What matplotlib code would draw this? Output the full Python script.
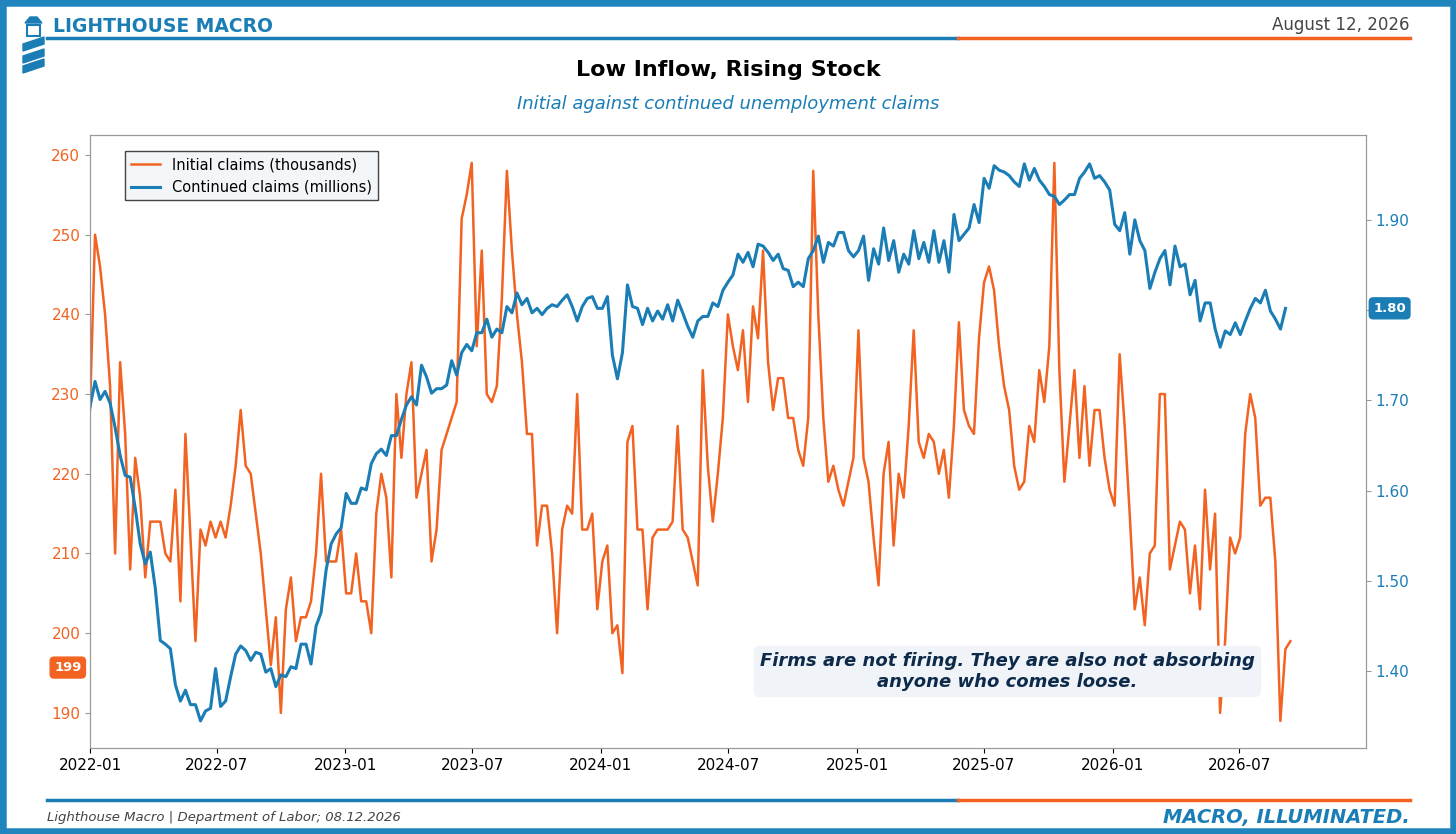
import pandas as pd
import matplotlib.pyplot as plt
import matplotlib.dates as mdates
from matplotlib.lines import Line2D
from matplotlib.patches import Rectangle, Polygon

# weekly initial claims, thousands
init_2022_23 = [228, 250, 246, 240, 231, 210, 234, 225, 208, 222, 217, 207, 214, 214, 214, 210, 209, 218, 204, 225,
                212, 199, 213, 211, 214, 212, 214, 212, 216, 221, 228, 221, 220, 215, 210, 203, 196, 202, 190, 203,
                207, 199, 202, 202, 204, 210, 220, 209, 209, 209, 213, 205, 205, 210, 204, 204, 200, 215, 220, 217,
                207, 230, 222, 230, 234, 217, 220, 223, 209, 213, 223, 225, 227, 229, 252, 255, 259, 236, 248, 230,
                229, 231, 242, 258, 248, 240, 234, 225, 225, 211, 216, 216, 210, 200, 213]
init_2024_25 = [216, 215, 230, 213, 213, 215, 203, 209, 211, 200, 201, 195, 224, 226, 213, 213, 203, 212, 213, 213,
                213, 214, 226, 213, 212, 209, 206, 233, 221, 214, 220, 227, 240, 236, 233, 238, 229, 241, 237, 248,
                234, 228, 232, 232, 227, 227, 223, 221, 227, 258, 240, 227, 219, 221, 218, 216, 219, 222, 238, 222,
                219, 212, 206, 220, 224, 211, 220, 217, 226, 238, 224, 222, 225, 224, 220, 223, 217, 226, 239, 228,
                226, 225]
init_2025_26 = [237, 244, 246, 243, 236, 231, 228, 221, 218, 219, 226, 224, 233, 229, 236, 259, 233, 219, 226, 233,
                222, 231, 221, 228, 228, 222, 218, 216, 235, 226, 215, 203, 207, 201, 210, 211, 230, 230, 208, 211,
                214, 213, 205, 211, 203, 218, 208, 215, 190, 199, 212, 210, 212, 225, 230, 227, 216, 217, 217, 209,
                189, 198, 199]
init_claims = init_2022_23 + init_2024_25 + init_2025_26

# weekly continued claims, millions
cont_2022_23 = [1.693, 1.721, 1.701, 1.710, 1.697, 1.670, 1.639, 1.617, 1.615, 1.581, 1.541, 1.519, 1.532, 1.492,
                1.434, 1.430, 1.425, 1.385, 1.367, 1.379, 1.363, 1.363, 1.345, 1.356, 1.359, 1.403, 1.361, 1.367,
                1.394, 1.419, 1.428, 1.423, 1.412, 1.421, 1.419, 1.399, 1.403, 1.383, 1.396, 1.394, 1.405, 1.403,
                1.430, 1.430, 1.408, 1.450, 1.465, 1.512, 1.541, 1.552, 1.559, 1.597, 1.586, 1.586, 1.603, 1.601,
                1.630, 1.641, 1.646, 1.639, 1.661, 1.661, 1.679, 1.695, 1.704, 1.695, 1.739, 1.726, 1.708, 1.713,
                1.713, 1.717, 1.744, 1.728, 1.753, 1.762, 1.755, 1.775, 1.775, 1.790, 1.770, 1.779, 1.775, 1.804,
                1.797, 1.819, 1.806, 1.813, 1.797, 1.802, 1.795, 1.802, 1.806, 1.804, 1.811]
cont_2024_25 = [1.817, 1.804, 1.788, 1.804, 1.813, 1.815, 1.802, 1.802, 1.815, 1.750, 1.724, 1.753, 1.828, 1.804,
                1.802, 1.784, 1.802, 1.788, 1.799, 1.790, 1.806, 1.788, 1.811, 1.797, 1.782, 1.770, 1.788, 1.793,
                1.793, 1.808, 1.804, 1.822, 1.831, 1.839, 1.862, 1.853, 1.864, 1.848, 1.873, 1.871, 1.864, 1.855,
                1.862, 1.846, 1.844, 1.826, 1.831, 1.826, 1.857, 1.866, 1.882, 1.853, 1.875, 1.871, 1.886, 1.886,
                1.866, 1.859, 1.866, 1.882, 1.833, 1.868, 1.851, 1.891, 1.855, 1.877, 1.842, 1.862, 1.851, 1.888,
                1.857, 1.875, 1.853, 1.888, 1.853, 1.877, 1.842, 1.906, 1.877, 1.884, 1.891, 1.917, 1.897]
cont_2025_26 = [1.946, 1.935, 1.960, 1.955, 1.953, 1.949, 1.942, 1.937, 1.962, 1.944, 1.957, 1.944, 1.937, 1.928,
                1.926, 1.917, 1.922, 1.928, 1.928, 1.946, 1.953, 1.962, 1.946, 1.949, 1.942, 1.933, 1.895, 1.888,
                1.908, 1.862, 1.900, 1.877, 1.866, 1.824, 1.842, 1.857, 1.866, 1.828, 1.871, 1.848, 1.851, 1.817,
                1.833, 1.788, 1.808, 1.808, 1.779, 1.759, 1.777, 1.773, 1.786, 1.773, 1.788, 1.802, 1.813, 1.808,
                1.822, 1.799, 1.790, 1.779, 1.802]
cont_claims = cont_2022_23 + cont_2024_25 + cont_2025_26

init_dates = pd.date_range("2022-01-01", "2026-09-12", periods=len(init_claims))
cont_dates = pd.date_range("2022-01-01", "2026-09-05", periods=len(cont_claims))

ORANGE = "#f26322"
BLUE = "#1a7db5"
NAVY = "#0d2a4a"

fig = plt.figure(figsize=(14.56, 8.34), dpi=100)
fig.patch.set_facecolor("white")
fig.add_artist(Rectangle((0, 0), 1, 1, transform=fig.transFigure, fill=False, edgecolor="#2185bd", linewidth=9))

W, H = 1456, 834
def fx(px): return px / W
def fy(py): return 1 - py / H

# header / footer rules
for y in (38, 800):
    fig.add_artist(Line2D([fx(47), fx(958)], [fy(y), fy(y)], color=BLUE, lw=2.5))
    fig.add_artist(Line2D([fx(958), fx(1410)], [fy(y), fy(y)], color=ORANGE, lw=2.5))

# little lighthouse mark
fig.add_artist(Polygon([[fx(30), fy(17)], [fx(37), fy(17)], [fx(42), fy(23)], [fx(25), fy(23)]],
                       closed=True, color=BLUE, transform=fig.transFigure))
fig.add_artist(Rectangle((fx(27), fy(36)), fx(13), fy(25) - fy(36), color=BLUE, fill=False, lw=1.5,
                         transform=fig.transFigure))
for y0 in (40, 52, 62):
    fig.add_artist(Polygon([[fx(23), fy(y0 + 4)], [fx(44), fy(y0 - 3)], [fx(44), fy(y0 + 4)], [fx(23), fy(y0 + 11)]],
                           closed=True, color=BLUE, transform=fig.transFigure))

fig.text(fx(53), fy(27), "LIGHTHOUSE MACRO", color=BLUE, fontsize=13.5, fontweight="bold", va="center")
fig.text(fx(1410), fy(25), "August 12, 2026", color="#444444", fontsize=12, ha="right", va="center")
fig.text(0.5, fy(70), "Low Inflow, Rising Stock", fontsize=16, fontweight="bold", ha="center", va="center")
fig.text(0.5, fy(104), "Initial against continued unemployment claims", color=BLUE, fontsize=13,
         style="italic", ha="center", va="center")
fig.text(fx(47), fy(818), "Lighthouse Macro | Department of Labor; 08.12.2026", color="#444444",
         fontsize=9.5, style="italic", va="center")
fig.text(fx(1410), fy(818), "MACRO, ILLUMINATED.", color=BLUE, fontsize=14, fontweight="bold",
         style="italic", ha="right", va="center")

ax1 = fig.add_axes([fx(90), fy(748), fx(1366) - fx(90), fy(135) - fy(748)])
ax1.plot(init_dates, init_claims, color=ORANGE, lw=1.8, label="Initial claims (thousands)")
ax1.set_ylim(185.6, 262.5)
ax1.set_yticks(range(190, 261, 10))
ax1.tick_params(axis="y", colors=ORANGE, labelsize=11)
ax1.tick_params(axis="x", labelsize=11)
ax1.set_xlim(pd.Timestamp("2022-01-01"), pd.Timestamp("2026-12-29"))
ax1.xaxis.set_major_locator(mdates.MonthLocator(bymonth=[1, 7]))
ax1.xaxis.set_major_formatter(mdates.DateFormatter("%Y-%m"))

ax2 = ax1.twinx()
ax2.plot(cont_dates, cont_claims, color=BLUE, lw=2.2, label="Continued claims (millions)")
ax2.set_ylim(1.315, 1.994)
ax2.set_yticks([1.4, 1.5, 1.6, 1.7, 1.8, 1.9])
ax2.set_yticklabels(["1.40", "1.50", "1.60", "1.70", "", "1.90"])
ax2.tick_params(axis="y", colors=BLUE, labelsize=11)
for ax in (ax1, ax2):
    for s in ax.spines.values():
        s.set_color("#999999")
ax1.tick_params(axis="y", color="#999999")
ax2.tick_params(axis="y", color="#999999")

h1, l1 = ax1.get_legend_handles_labels()
h2, l2 = ax2.get_legend_handles_labels()
leg = ax2.legend(h1 + h2, l1 + l2, loc="upper left", bbox_to_anchor=(0.022, 0.985), fontsize=10.5,
                 facecolor="#f3f6f9", edgecolor="#444444", framealpha=1, fancybox=False)

# last-value badges
ax1.annotate(f"{init_claims[-1]}", xy=(0, init_claims[-1]), xycoords=("axes fraction", "data"),
             xytext=(-16, -19), textcoords="offset points", ha="center", va="center", color="white",
             fontsize=9.5, fontweight="bold", annotation_clip=False,
             bbox=dict(boxstyle="round,pad=0.3", fc=ORANGE, ec=ORANGE))
ax2.annotate(f"{cont_claims[-1]:.2f}", xy=(1, cont_claims[-1]), xycoords=("axes fraction", "data"),
             xytext=(17, 0), textcoords="offset points", ha="center", va="center", color="white",
             fontsize=9.5, fontweight="bold", annotation_clip=False,
             bbox=dict(boxstyle="round,pad=0.3", fc=BLUE, ec=BLUE))

ax2.text(0.719, 0.125, "Firms are not firing. They are also not absorbing\nanyone who comes loose.",
         transform=ax2.transAxes, ha="center", va="center", fontsize=13, fontweight="bold",
         style="italic", color=NAVY, zorder=10,
         bbox=dict(boxstyle="round,pad=0.35", fc="#f0f4f8", ec="none"))

fig.savefig("out.png", dpi=100)
